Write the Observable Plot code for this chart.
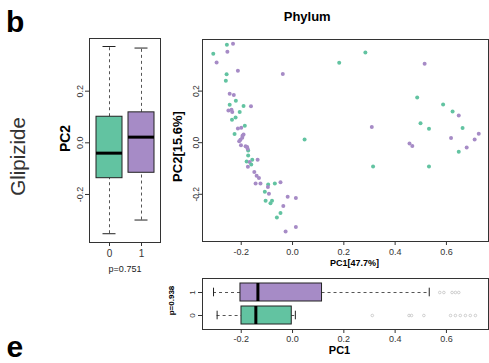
<!DOCTYPE html>
<html><head><meta charset="utf-8">
<script src="https://cdn.jsdelivr.net/npm/d3@7"></script>
<script src="https://cdn.jsdelivr.net/npm/@observablehq/plot@0.6"></script>
<style>
html,body{margin:0;padding:0;background:#fff;}
#wrap{position:relative;width:489px;height:363px;overflow:hidden;font-family:"Liberation Sans",Arial,sans-serif;}
.panel{position:absolute;}
.lbl{position:absolute;white-space:nowrap;line-height:1;font-weight:bold;color:#000;}
</style></head><body>
<div id="wrap">
  <div class="lbl" style="left:6px;top:6.6px;font-size:30px;">b</div>
  <div class="lbl" style="left:6.5px;top:332px;font-size:30px;">e</div>
</div>
<script>
// ---- data ----
const groups = ["0", "1"];
const groupColors = ["#62c3a1", "#a68bc6"];

// Left boxplot (PC2 by group)
const pc2Lo  = [-0.352, -0.299];
const pc2Q1  = [-0.137, -0.116];
const pc2Med = [-0.040,  0.022];
const pc2Q3  = [ 0.101,  0.118];
const pc2Hi  = [ 0.373,  0.367];

// Bottom boxplot (PC1 by group)
const pc1Lo  = [-0.294, -0.308];
const pc1Q1  = [-0.199, -0.203];
const pc1Med = [-0.143, -0.135];
const pc1Q3  = [-0.003,  0.115];
const pc1Hi  = [ 0.011,  0.533];
const pc1Out0 = [0.311, 0.454, 0.464, 0.512, 0.616, 0.635, 0.654, 0.674, 0.693, 0.713];
const pc1Out1 = [0.574, 0.590, 0.622, 0.635, 0.648];

// Scatter (PC1 vs PC2)
const pcaX = [-0.309,-0.296,-0.256,-0.232,-0.254,-0.213,-0.257,-0.260,-0.245,-0.229,
  -0.221,-0.245,-0.250,-0.238,-0.235,-0.236,-0.222,-0.206,-0.191,-0.162,
  -0.226,-0.213,-0.200,-0.186,-0.195,-0.191,-0.203,-0.208,-0.201,-0.183,
  -0.177,-0.173,-0.173,-0.157,-0.136,-0.179,-0.167,-0.161,-0.174,-0.149,
  -0.140,-0.131,-0.144,-0.125,-0.095,-0.069,-0.047,-0.096,-0.092,-0.108,
  -0.105,-0.086,-0.080,-0.019,0.013,-0.036,-0.047,-0.061,0.013,-0.027,
  -0.038,0.047,0.182,0.284,0.309,0.314,0.515,0.486,0.499,0.532,
  0.456,0.467,0.532,0.587,0.624,0.648,0.663,0.618,0.648,0.679,
  0.710,0.726,-0.196,-0.175];
const pcaY = [0.345,0.311,0.380,0.384,0.353,0.279,0.265,0.240,0.190,0.185,
  0.163,0.147,0.125,0.128,0.119,0.089,0.098,0.119,0.142,0.141,
  0.034,0.055,0.058,0.066,0.027,0.032,0.011,0.006,-0.010,-0.014,
  -0.017,-0.030,-0.050,-0.066,-0.066,-0.073,-0.075,-0.085,-0.093,-0.114,
  -0.128,-0.137,-0.158,-0.158,-0.162,-0.158,-0.153,-0.172,-0.198,-0.190,
  -0.225,-0.235,-0.225,-0.210,-0.214,-0.245,-0.273,-0.290,-0.327,-0.344,
  0.266,0.012,0.310,0.350,0.061,-0.092,0.306,0.175,0.075,0.054,
  -0.003,-0.013,-0.092,0.148,0.121,0.105,0.057,0.018,-0.035,-0.019,
  0.012,0.035,0.019,-0.023];
const pcaG = ["0","1","0","1","1","1","0","0","1","1",
  "0","0","1","1","1","0","0","0","0","1",
  "0","1","1","0","1","1","1","1","1","1",
  "1","0","0","0","1","0","1","0","1","1",
  "1","1","1","1","0","0","1","1","1","0",
  "0","0","0","1","1","1","0","0","1","1",
  "1","0","0","0","1","0","1","0","0","0",
  "1","1","0","0","0","1","0","1","0","1",
  "1","1","1","1"];

const xTicks = [-0.2, 0.0, 0.2, 0.4, 0.6];
const yTicks = [-0.2, 0.0, 0.2];
const pc1Domain = [-0.351, 0.764];

// ---- helpers ----
const font = "'Liberation Sans', Arial, sans-serif";
const fmt = d => d3.format(".1f")(d).replace("\u2212", "-");
const wrap = document.getElementById("wrap");
function place(node, left, top) {
  const d = document.createElement("div");
  d.className = "panel";
  d.style.left = left + "px";
  d.style.top = top + "px";
  d.appendChild(node);
  wrap.appendChild(d);
}
const whisk = {stroke: "#555", strokeWidth: 1, strokeDasharray: "3,3"};

// ---- left boxplot ----
const boxL = groups.map((g, i) => ({g, lo: pc2Lo[i], q1: pc2Q1[i], med: pc2Med[i], q3: pc2Q3[i], hi: pc2Hi[i]}));
const chartA = Plot.plot({
  width: 170, height: 290,
  marginLeft: 89, marginRight: 10, marginTop: 38, marginBottom: 48,
  style: {fontFamily: font, color: "#333", background: "transparent"},
  x: {type: "band", domain: groups, paddingInner: 0.2, paddingOuter: 0.18},
  y: {domain: [-0.386, 0.404]},
  color: {domain: groups, range: groupColors},
  marks: [
    Plot.ruleX(boxL, {x: "g", y1: "lo", y2: "q1", ...whisk}),
    Plot.ruleX(boxL, {x: "g", y1: "q3", y2: "hi", ...whisk}),
    Plot.barY(boxL, {x: "g", y1: "q1", y2: "q3", fill: "g", stroke: "#222", strokeWidth: 1}),
    Plot.tickY(boxL, {x: "g", y: "med", stroke: "#000", strokeWidth: 3}),
    Plot.tickY(boxL, {x: "g", y: "lo", stroke: "#222", insetLeft: 6.5, insetRight: 6.5}),
    Plot.tickY(boxL, {x: "g", y: "hi", stroke: "#222", insetLeft: 6.5, insetRight: 6.5}),
    Plot.frame({stroke: "#333"}),
    Plot.axisY({ticks: yTicks, tickFormat: fmt, tickSize: 4, tickPadding: 3, tickRotate: -90, fontSize: 9, label: null}),
    Plot.axisX({tickSize: 4, tickPadding: 3, fontSize: 10, label: null}),
    Plot.text(["p=0.751"], {text: d => d, frameAnchor: "bottom", dy: 29, fontSize: 9, fill: "#222"}),
    Plot.text(["PC2"], {text: d => d, frameAnchor: "left", textAnchor: "middle", dx: -24, dy: -2, rotate: -90, fontSize: 14, fontWeight: "bold", fill: "#000"}),
    Plot.text(["Glipizide"], {text: d => d, frameAnchor: "left", textAnchor: "middle", dx: -71, dy: 16, rotate: -90, fontSize: 20.5, fill: "#333"})
  ]
});
place(chartA, 0, 0);

// ---- scatter ----
const pts = pcaX.map((x, i) => ({x, y: pcaY[i], g: pcaG[i]}));
const chartB = Plot.plot({
  width: 329, height: 290,
  marginLeft: 42, marginRight: 1, marginTop: 39, marginBottom: 49,
  style: {fontFamily: font, color: "#333", background: "transparent"},
  x: {domain: pc1Domain},
  y: {domain: [-0.383, 0.400]},
  color: {domain: groups, range: groupColors},
  marks: [
    Plot.dot(pts, {x: "x", y: "y", fill: "g", r: 2, stroke: null}),
    Plot.frame({stroke: "#333"}),
    Plot.axisX({ticks: xTicks, tickFormat: fmt, tickSize: 4, tickPadding: 3, fontSize: 9, label: null}),
    Plot.axisY({ticks: yTicks, tickFormat: fmt, tickSize: 4, tickPadding: 0, tickRotate: -90, fontSize: 8.5, label: null}),
    Plot.text(["PC2[15.6%]"], {text: d => d, frameAnchor: "left", textAnchor: "middle", dx: -24.7, dy: 6, rotate: -90, fontSize: 13, fontWeight: "bold", fill: "#000"}),
    Plot.text(["PC1[47.7%]"], {text: d => d, frameAnchor: "bottom", dx: 9, dy: 24, fontSize: 9, fontWeight: "bold", fill: "#000"}),
    Plot.text(["Phylum"], {text: d => d, frameAnchor: "top", dx: -38.3, dy: -27.3, fontSize: 13, fontWeight: "bold", fill: "#000"})
  ]
});
place(chartB, 160, 0);

// ---- bottom boxplot ----
const boxB = groups.map((g, i) => ({g, lo: pc1Lo[i], q1: pc1Q1[i], med: pc1Med[i], q3: pc1Q3[i], hi: pc1Hi[i]}));
const outs = [...pc1Out0.map(v => ({g: "0", v})), ...pc1Out1.map(v => ({g: "1", v}))];
const chartC = Plot.plot({
  width: 329, height: 93,
  marginLeft: 42, marginRight: 1, marginTop: 8, marginBottom: 34,
  style: {fontFamily: font, color: "#333", background: "transparent"},
  x: {domain: pc1Domain},
  y: {type: "band", domain: ["1", "0"], paddingInner: 0.2, paddingOuter: 0.18},
  color: {domain: groups, range: groupColors},
  marks: [
    Plot.ruleY(boxB, {y: "g", x1: "lo", x2: "q1", ...whisk}),
    Plot.ruleY(boxB, {y: "g", x1: "q3", x2: "hi", ...whisk}),
    Plot.barX(boxB, {y: "g", x1: "q1", x2: "q3", fill: "g", stroke: "#222", strokeWidth: 1}),
    Plot.tickX(boxB, {y: "g", x: "med", stroke: "#000", strokeWidth: 3}),
    Plot.tickX(boxB, {y: "g", x: "lo", stroke: "#222", insetTop: 4.7, insetBottom: 4.7}),
    Plot.tickX(boxB, {y: "g", x: "hi", stroke: "#222", insetTop: 4.7, insetBottom: 4.7}),
    Plot.dot(outs, {x: "v", y: "g", r: 1.3, stroke: "#bbb", strokeWidth: 0.7, fill: "none"}),
    Plot.frame({stroke: "#333"}),
    Plot.axisX({ticks: xTicks, tickFormat: fmt, tickSize: 4, tickPadding: 2, fontSize: 9, label: null}),
    Plot.axisY({tickSize: 4, tickPadding: 4, tickRotate: -90, fontSize: 8, label: null}),
    Plot.text(["PC1"], {text: d => d, frameAnchor: "bottom", dx: -6, dy: 24.3, fontSize: 11, fontWeight: "bold", fill: "#000"}),
    Plot.text(["p=0.938"], {text: d => d, frameAnchor: "left", textAnchor: "middle", dx: -31, dy: -3.5, rotate: -90, fontSize: 8, fontWeight: "bold", fill: "#000"})
  ]
});
place(chartC, 160, 270);
</script>
</body></html>
